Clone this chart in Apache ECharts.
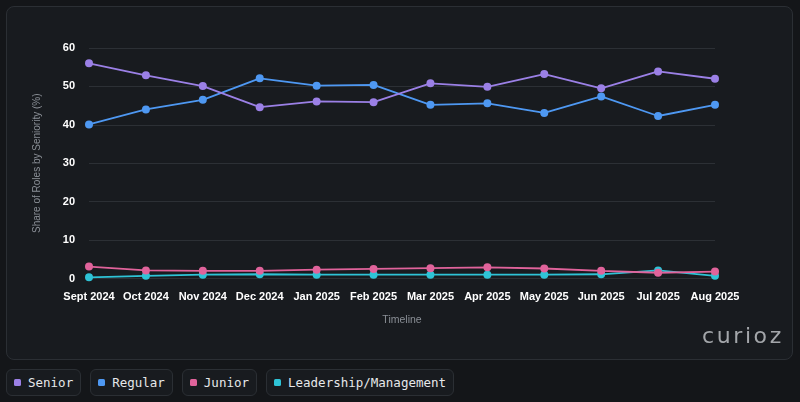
<!DOCTYPE html>
<html>
<head>
<meta charset="utf-8">
<script src="https://cdn.jsdelivr.net/npm/echarts@6/dist/echarts.min.js"></script>
<style>
  html, body { margin: 0; padding: 0; background: #141619; width: 800px; height: 402px; overflow: hidden; }
  #card { position: absolute; left: 6px; top: 6px; width: 785px; height: 352px; border: 1px solid #2b2f34; border-radius: 8px; background: #181b1f; }
  #chart { position: absolute; left: 0; top: 0; width: 800px; height: 365px; }
  #legend { position: absolute; left: 6px; top: 369px; display: flex; gap: 9px; }
  .item { display: flex; align-items: center; height: 27px; padding: 0 7px 0 7px; border: 1px solid #2b2f34; border-radius: 6px; background: #181b1f; color: #e6e8ea; font-family: "DejaVu Sans Mono", monospace; font-size: 12.5px; box-sizing: border-box; white-space: nowrap; }
  .sw { width: 7px; height: 7px; border-radius: 1.5px; margin-right: 7px; }
  #mark { position: absolute; left: 702px; top: 323px; color: #a3a6aa; font: 22px "DejaVu Sans", sans-serif; letter-spacing: 2.6px; }
</style>
</head>
<body>
<div id="card"></div>
<div id="chart"></div>
<div id="mark">curioz</div>
<div id="legend"></div>
<script>
const categories = ["Sept 2024","Oct 2024","Nov 2024","Dec 2024","Jan 2025","Feb 2025","Mar 2025","Apr 2025","May 2025","Jun 2025","Jul 2025","Aug 2025"];
const seniorValues = [56.0, 52.9, 50.1, 44.6, 46.1, 45.9, 50.8, 49.9, 53.2, 49.5, 53.9, 52.0];
const regularValues = [40.1, 44.0, 46.5, 52.1, 50.2, 50.4, 45.2, 45.6, 43.1, 47.4, 42.3, 45.2];
const juniorValues = [3.1, 2.1, 2.0, 2.0, 2.3, 2.5, 2.7, 2.9, 2.6, 2.0, 1.5, 1.8];
const leadershipValues = [0.3, 0.7, 1.0, 1.1, 1.0, 1.0, 1.0, 1.0, 1.0, 1.1, 2.1, 0.7];
const seriesNames = ["Senior", "Regular", "Junior", "Leadership/Management"];
const seriesColors = ["#9b80e6", "#4e98f2", "#e0639b", "#2ec3d6"];
const seriesData = [seniorValues, regularValues, juniorValues, leadershipValues];
const yTicks = [0, 10, 20, 30, 40, 50, 60];

const legend = document.getElementById('legend');
seriesNames.forEach((n, i) => {
  const d = document.createElement('div');
  d.className = 'item';
  d.innerHTML = '<span class="sw" style="background:' + seriesColors[i] + '"></span>' + n;
  legend.appendChild(d);
});

const chart = echarts.init(document.getElementById('chart'), null, { renderer: 'canvas' });
chart.setOption({
  backgroundColor: 'transparent',
  animation: false,
  grid: { left: 89, right: 85, top: 48, bottom: 86.5 },
  xAxis: {
    type: 'category',
    data: categories,
    boundaryGap: false,
    name: 'Timeline',
    nameLocation: 'middle',
    nameGap: 36,
    nameTextStyle: { color: '#8a8f96', fontSize: 10.5, fontFamily: 'Liberation Sans, Arial, sans-serif' },
    axisLine: { show: false },
    axisTick: { show: false },
    axisLabel: { color: '#ffffff', fontWeight: 'bold', fontSize: 11, fontFamily: 'Liberation Sans, Arial, sans-serif', margin: 13, interval: 0 }
  },
  yAxis: {
    type: 'value',
    min: yTicks[0],
    max: yTicks[yTicks.length - 1],
    interval: 10,
    name: 'Share of Roles by Seniority (%)',
    nameLocation: 'middle',
    nameGap: 47,
    nameTextStyle: { color: '#8a8f96', fontSize: 10, fontFamily: 'Liberation Sans, Arial, sans-serif' },
    axisLine: { show: false },
    axisTick: { show: false },
    axisLabel: { color: '#ffffff', fontWeight: 'bold', fontSize: 11, fontFamily: 'Liberation Sans, Arial, sans-serif', margin: 14 },
    splitLine: { lineStyle: { color: '#2c3035', width: 1 } }
  },
  series: seriesNames.map((n, i) => ({
    name: n,
    type: 'line',
    data: seriesData[i],
    symbol: 'circle',
    symbolSize: 8,
    lineStyle: { color: seriesColors[i], width: 1.8 },
    itemStyle: { color: seriesColors[i] },
    z: 10 - i
  }))
});
</script>
</body>
</html>
